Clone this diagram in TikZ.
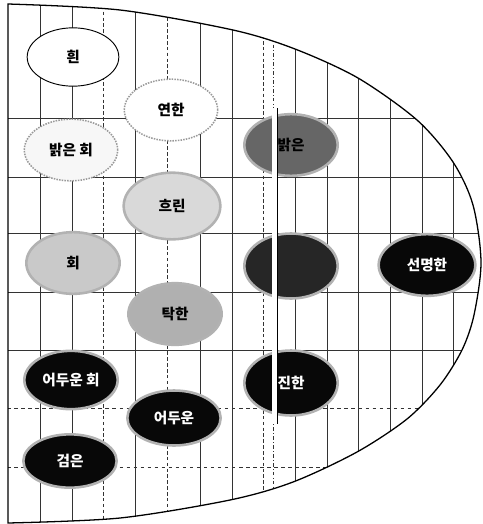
\documentclass[tikz,border=0pt]{standalone}
\usepackage{fontspec}
\newfontfamily\krfont{Noto Sans CJK KR}
\usetikzlibrary{shapes.geometric}
\definecolor{W}{gray}{0.97}
\definecolor{L}{gray}{0.85}
\definecolor{M}{gray}{0.79}
\definecolor{D}{gray}{0.69}
\definecolor{K}{gray}{0.40}
\definecolor{N}{gray}{0.15}
\definecolor{X}{gray}{0.03}
\tikzset{
  tone/.style={ellipse, inner sep=0pt, minimum width=2.8cm, minimum height=1.85cm,
    font=\krfont\bfseries\fontsize{12.5}{14}\selectfont},
  pale/.style={tone, fill=#1, draw=black!40, densely dotted, line width=1.3pt},
  halo/.style={tone, fill=#1, draw=black!30, line width=2.2pt},
  deep/.style={halo=#1, text=white},
  rim/.style={black, line width=1.1pt},
  mesh/.style={black!80, line width=0.6pt}
}

\begin{document}
\begin{tikzpicture}[x=0.03cm, y=-0.03cm]
   \useasboundingbox (0,0) rectangle (483,524);
   \begin{scope}
   \clip (8,523) -- plot[smooth] coordinates {(8,4) (120,10) (233,30) (295,49) (358,78) (417,120) (453,162) (473,205) (481,262) (474,315) (462,350) (440,385) (407,419) (357,452) (293,482) (230,500) (120,518) (8,523)} -- cycle;
   \draw[mesh] (40,0) -- (40,524) (72,0) -- (72,524) (135,0) -- (135,524) (200,0) -- (200,524) (232,0) -- (232,524) (295,0) -- (295,524) (327,0) -- (327,524) (358,0) -- (358,524) (390,0) -- (390,524) (422,0) -- (422,524) (453,0) -- (453,524);
   \draw[mesh, densely dashed] (103,0) -- (103,524) (167,0) -- (167,524) (263,0) -- (263,524);
   \draw[mesh, dash dot] (273,0) -- (273,524);
   \draw[mesh] (0,118) -- (483,118) (0,177) -- (483,177) (0,233) -- (483,233) (0,292) -- (483,292) (0,350) -- (483,350);
   \draw[mesh, dashed] (0,408) -- (483,408) (0,467) -- (483,467);
   \end{scope}
   \draw[rim] (8,523) -- plot[smooth] coordinates {(8,4) (120,10) (233,30) (295,49) (358,78) (417,120) (453,162) (473,205) (481,262) (474,315) (462,350) (440,385) (407,419) (357,452) (293,482) (230,500) (120,518) (8,523)} -- cycle;

   \node[tone, fill=white, draw=black, line width=0.8pt, minimum width=2.75cm, minimum height=1.75cm] (huin) at (73,57) {흰};
   \node[pale=white] (yeonhan) at (171,110) {연한};
   \node[pale=W] (balgeunhoe) at (71,150) {밝은 회};
   \node[halo=K] (balgeun) at (291,145) {밝은};
   \node[halo=L, minimum width=2.9cm, minimum height=2cm] (heurin) at (172,206) {흐린};
   \node[halo=M] (hoe) at (73,263) {회};
   \node[halo=D] (takhan) at (175,314) {탁한};
   \node[halo=N, minimum height=1.95cm] (ganghan) at (291,266) {};
   \node[deep=X, minimum width=2.9cm] (seonmyeong) at (427,265) {선명한};
   \node[deep=X, minimum height=1.75cm] (eodubhoe) at (71,380) {어두운 회};
   \node[deep=X, minimum height=1.65cm] (eodun) at (174,418) {어두운};
   \node[deep=X, minimum height=1.95cm] (jinhan) at (291,383) {진한};
   \node[deep=X, minimum height=1.6cm] (geomeun) at (70,461) {검은};

   \draw[white, line width=4pt] (274.5,108) -- (274.5,424);
   \draw[black, line width=0.6pt] (277.5,108) -- (277.5,424);
\end{tikzpicture}
\end{document}
